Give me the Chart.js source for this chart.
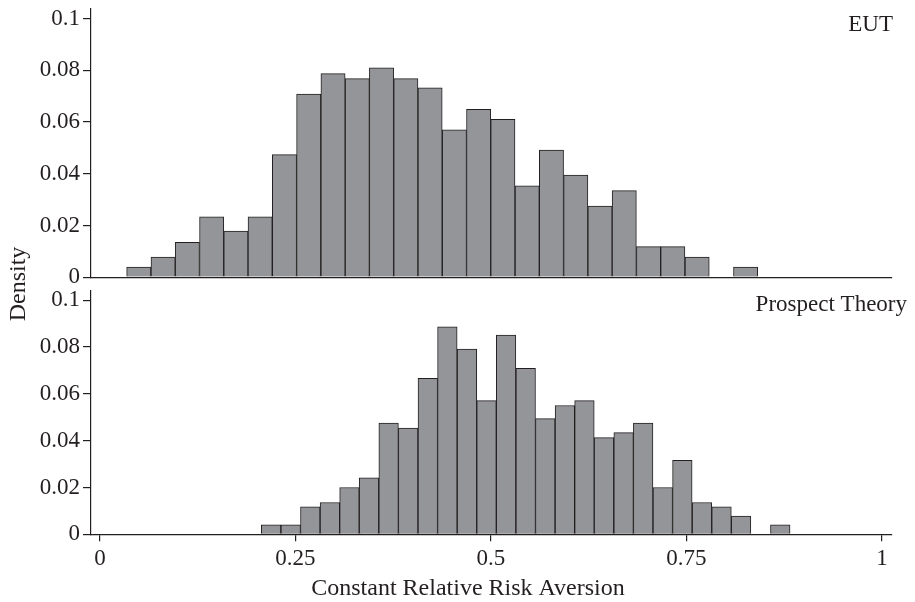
<!DOCTYPE html>
<html>
<head>
<meta charset="utf-8">
<title>CRRA density</title>
<script src="https://cdn.jsdelivr.net/npm/chart.js@4.4.1/dist/chart.umd.min.js"></script>
<style>
  html, body { margin: 0; padding: 0; background: #fff; }
  #wrap { position: relative; width: 915px; height: 602px; overflow: hidden; }
  canvas { position: absolute; left: 0; }
  #topChart { top: -8px; }
  #bottomChart { top: 274px; }
  #ylab {
    position: absolute; left: -44px; top: 272px;
    width: 120px; height: 24px; line-height: 24px; text-align: center;
    font: 24px 'Liberation Serif', 'Times New Roman', serif; color: #231f20;
    transform: rotate(-90deg);
  }
</style>
</head>
<body>
<div id="wrap">
  <canvas id="topChart" width="915" height="302"></canvas>
  <canvas id="bottomChart" width="915" height="328"></canvas>
  <div id="ylab">Density</div>
</div>
<script>
// shared axes
const xTicks = [0, 0.25, 0.5, 0.75, 1];
const xTickLabels = ['0', '0.25', '0.5', '0.75', '1'];
const yTicks = [0, 0.02, 0.04, 0.06, 0.08, 0.1];
const yTickLabels = ['0', '0.02', '0.04', '0.06', '0.08', '0.1'];
const xTitle = 'Constant Relative Risk Aversion';

// EUT panel: bin centres and density
const eutBins = [0.0496, 0.0807, 0.1117, 0.1428, 0.1738, 0.2048, 0.2359, 0.2669, 0.2980, 0.3290,
                 0.3600, 0.3911, 0.4221, 0.4532, 0.4842, 0.5152, 0.5463, 0.5773, 0.6084, 0.6394,
                 0.6704, 0.7015, 0.7325, 0.7636, 0.7946, 0.8256];
const eutDensity = [0.0039, 0.0078, 0.0135, 0.0233, 0.0178, 0.0233, 0.0474, 0.0708, 0.0787, 0.0768,
                    0.0810, 0.0768, 0.0732, 0.0570, 0.0649, 0.0611, 0.0353, 0.0492, 0.0395, 0.0275,
                    0.0335, 0.0118, 0.0118, 0.0078, null, 0.0039];

// Prospect Theory panel
const ptBins = [0.2188, 0.2439, 0.2689, 0.2940, 0.3190, 0.3440, 0.3691, 0.3941, 0.4192, 0.4442,
                0.4693, 0.4943, 0.5193, 0.5444, 0.5694, 0.5945, 0.6195, 0.6445, 0.6696, 0.6946,
                0.7197, 0.7447, 0.7698, 0.7948, 0.8198, 0.8449, 0.8699];
const ptDensity = [0.0040, 0.0040, 0.0117, 0.0136, 0.0200, 0.0241, 0.0475, 0.0454, 0.0666, 0.0886,
                   0.0791, 0.0571, 0.0851, 0.0709, 0.0494, 0.0550, 0.0571, 0.0413, 0.0434, 0.0475,
                   0.0200, 0.0316, 0.0136, 0.0117, 0.0078, null, 0.0040];

const INK = '#231f20';
const FONT_FAMILY = "'Liberation Serif', 'Times New Roman', serif";

Chart.defaults.font.family = FONT_FAMILY;
Chart.defaults.font.size = 23;
Chart.defaults.color = INK;

// panel name in the top right corner, plus the x title (which sits left of centre)
const panelLabel = {
  id: 'panelLabel',
  afterDraw(chart, args, opts) {
    const { ctx, chartArea } = chart;
    ctx.save();
    ctx.font = '23px ' + FONT_FAMILY;
    ctx.fillStyle = INK;
    ctx.textBaseline = 'alphabetic';
    ctx.textAlign = 'right';
    ctx.fillText(opts.text, chartArea.right + opts.dx, chartArea.top + opts.dy);
    if (opts.title) {
      ctx.font = '24px ' + FONT_FAMILY;
      ctx.textAlign = 'center';
      ctx.fillText(opts.title, opts.titleX, chart.height - 7);
    }
    ctx.restore();
  }
};

function histogram(canvasId, bins, density, cfg) {
  const ctx = document.getElementById(canvasId).getContext('2d');
  return new Chart(ctx, {
    type: 'bar',
    data: {
      datasets: [{
        data: bins.map((x, i) => ({ x: x, y: density[i] })),
        backgroundColor: '#939598',
        borderColor: INK,
        borderWidth: 1,
        categoryPercentage: 1,
        barPercentage: 1
      }]
    },
    options: {
      responsive: false,
      animation: false,
      devicePixelRatio: 1,
      layout: { padding: { top: 16, right: 23, left: 0, bottom: 0 } },
      plugins: {
        legend: { display: false },
        tooltip: { enabled: false },
        panelLabel: cfg.label
      },
      scales: {
        x: {
          type: 'linear',
          min: -0.0115,
          max: 1.0128,
          offset: false,
          afterBuildTicks: s => { s.ticks = xTicks.map(v => ({ value: v })); },
          afterFit: s => { s.height = cfg.xHeight; },
          grid: { display: cfg.showX, offset: false, drawOnChartArea: false, tickLength: 7, color: INK, lineWidth: 1.2 },
          border: { display: true, color: INK, width: 1.2 },
          ticks: {
            display: cfg.showX,
            autoSkip: false,
            maxRotation: 0,
            padding: 4,
            callback: (v, i) => xTickLabels[i]
          }
        },
        y: {
          type: 'linear',
          min: 0,
          max: cfg.yMax,
          afterBuildTicks: s => { s.ticks = yTicks.map(v => ({ value: v })); },
          afterFit: s => { s.width = 91; },
          grid: { drawOnChartArea: false, tickLength: 8, color: INK, lineWidth: 1.2 },
          border: { display: true, color: INK, width: 1.2 },
          ticks: {
            padding: 3,
            callback: (v, i) => yTickLabels[i]
          }
        }
      }
    },
    plugins: [panelLabel]
  });
}

histogram('topChart', eutBins, eutDensity, {
  yMax: 0.1038,
  xHeight: 15.5,
  showX: false,
  label: { text: 'EUT', dx: 1, dy: 22 }
});

histogram('bottomChart', ptBins, ptDensity, {
  yMax: 0.104,
  xHeight: 67.7,
  showX: true,
  label: { text: 'Prospect Theory', dx: 15, dy: 20, title: xTitle, titleX: 468 }
});
</script>
</body>
</html>
